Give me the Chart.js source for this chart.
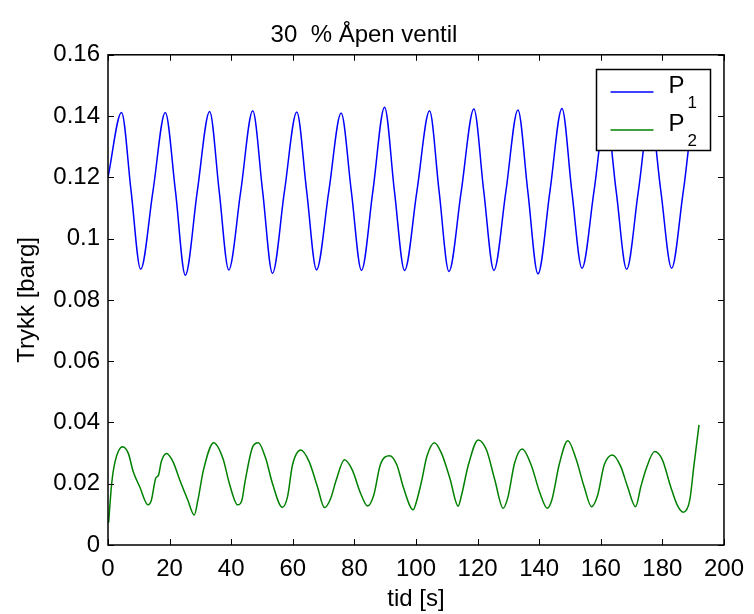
<!DOCTYPE html>
<html>
<head>
<meta charset="utf-8">
<title>30 % Åpen ventil</title>
<script src="https://cdn.jsdelivr.net/npm/chart.js@4/dist/chart.umd.min.js"></script>
<style>
  html, body { margin: 0; padding: 0; background: #fff; }
  #wrap { width: 754px; height: 614px; }
</style>
</head>
<body>
<div id="wrap"><canvas id="c" width="754" height="614"></canvas></div>
<script>
// Texts
const titleText = '30  % Åpen ventil';
const xTitle = 'tid [s]';
const yTitle = 'Trykk [barg]';
const seriesNames = ['P1', 'P2'];

// Axis ticks
const xTickValues = [0, 20, 40, 60, 80, 100, 120, 140, 160, 180, 200];
const xTickLabels = ['0', '20', '40', '60', '80', '100', '120', '140', '160', '180', '200'];
const yTickValues = [0, 0.02, 0.04, 0.06, 0.08, 0.1, 0.12, 0.14, 0.16];
const yTickLabels = ['0', '0.02', '0.04', '0.06', '0.08', '0.1', '0.12', '0.14', '0.16'];

// P1: peaks, troughs and mid-level crossings of the pressure swing
const p1Time = [
  0, 4.4, 7.5, 10.6, 14.6, 18.6, 21.9, 25.1, 29.0, 33.0, 36.1, 39.2, 43.1, 47.0,
  50.2, 53.4, 57.3, 61.3, 64.5, 67.7, 71.7, 75.7, 79.0, 82.3, 86.0, 89.8, 93.0,
  96.3, 100.3, 104.4, 107.5, 110.7, 114.7, 118.8, 122.0, 125.3, 129.2, 133.1,
  136.3, 139.6, 143.5, 147.4, 150.6, 153.9, 157.8, 161.6, 165.0, 168.4, 172.2,
  176.0, 179.5, 183.0, 186.8, 190.6, 191.9
];
const p1Value = [
  0.1200, 0.1412, 0.1155, 0.0900, 0.1155, 0.1412, 0.1155, 0.0881, 0.1155, 0.1415,
  0.1155, 0.0898, 0.1155, 0.1417, 0.1155, 0.0887, 0.1155, 0.1413, 0.1155, 0.0898,
  0.1155, 0.1410, 0.1155, 0.0896, 0.1155, 0.1429, 0.1155, 0.0896, 0.1155, 0.1417,
  0.1155, 0.0893, 0.1155, 0.1423, 0.1155, 0.0896, 0.1155, 0.1420, 0.1155, 0.0885,
  0.1155, 0.1425, 0.1155, 0.0903, 0.1155, 0.1410, 0.1155, 0.0900, 0.1155, 0.1410,
  0.1155, 0.0903, 0.1155, 0.1410, 0.1405
];

// P2: downstream pressure
const p2Time = [
  0.2, 1.2, 2.3, 4.7, 6.6, 8.2, 10.3, 13.0, 14.1, 15.5, 16.4, 17.3, 19.0, 21.1,
  23.3, 25.9, 28.0, 29.2, 31.0, 34.3, 37.3, 39.4, 42.1, 43.5, 44.5, 47.0, 48.8,
  51.2, 53.4, 56.6, 58.3, 59.9, 62.6, 65.3, 68.0, 70.3, 72.3, 74.1, 76.8, 79.3,
  82.0, 84.3, 86.3, 88.4, 91.4, 93.8, 96.0, 99.1, 100.3, 101.9, 103.5, 106.0,
  108.3, 111.0, 113.7, 114.8, 117.0, 120.2, 122.9, 125.6, 128.3, 129.9, 132.0,
  134.5, 137.4, 140.1, 142.6, 144.1, 146.6, 149.3, 151.9, 154.6, 157.0, 159.0,
  161.1, 163.8, 166.5, 168.7, 171.3, 173.0, 174.6, 177.5, 180.0, 182.7, 184.8,
  186.8, 188.9, 190.2, 191.9
];
const p2Value = [
  0.0073, 0.0201, 0.0272, 0.0321, 0.0299, 0.0239, 0.0190, 0.0131, 0.0147, 0.0218,
  0.0228, 0.0272, 0.0299, 0.0272, 0.0212, 0.0147, 0.0098, 0.0147, 0.0245, 0.0334,
  0.0283, 0.0201, 0.0131, 0.0147, 0.0207, 0.0321, 0.0334, 0.0283, 0.0201, 0.0123,
  0.0158, 0.0261, 0.0310, 0.0272, 0.0190, 0.0122, 0.0152, 0.0212, 0.0278, 0.0245,
  0.0169, 0.0127, 0.0163, 0.0261, 0.0291, 0.0261, 0.0185, 0.0115, 0.0147, 0.0212,
  0.0288, 0.0334, 0.0299, 0.0218, 0.0127, 0.0163, 0.0261, 0.0343, 0.0310, 0.0212,
  0.0120, 0.0158, 0.0267, 0.0313, 0.0261, 0.0174, 0.0120, 0.0147, 0.0267, 0.0340,
  0.0283, 0.0190, 0.0125, 0.0163, 0.0261, 0.0294, 0.0256, 0.0190, 0.0125, 0.0190,
  0.0245, 0.0305, 0.0278, 0.0190, 0.0131, 0.0107, 0.0147, 0.0256, 0.0392
];

const FONT = '"Liberation Sans", Arial, Helvetica, sans-serif';
const FONT_SIZE = 24;
const COLORS = ['#0000ff', '#008000'];

const toPoints = (ts, vs) => ts.map((t, i) => ({ x: t, y: vs[i] }));

// Box with inward tick marks on all four sides
const framePlugin = {
  id: 'frame',
  afterDatasetsDraw(chart) {
    const { ctx, chartArea: a, scales: { x, y } } = chart;
    const len = 6;
    ctx.save();
    ctx.strokeStyle = '#000';
    ctx.lineWidth = 1;
    ctx.beginPath();
    x.ticks.forEach(t => {
      const px = Math.round(x.getPixelForValue(t.value)) + 0.5;
      ctx.moveTo(px, a.bottom); ctx.lineTo(px, a.bottom - len);
      ctx.moveTo(px, a.top); ctx.lineTo(px, a.top + len);
    });
    y.ticks.forEach(t => {
      const py = Math.round(y.getPixelForValue(t.value)) + 0.5;
      ctx.moveTo(a.left, py); ctx.lineTo(a.left + len, py);
      ctx.moveTo(a.right, py); ctx.lineTo(a.right - len, py);
    });
    ctx.stroke();
    ctx.lineWidth = 1.5;
    ctx.strokeRect(a.left, a.top, a.right - a.left, a.bottom - a.top);
    ctx.restore();
  }
};

// Boxed legend in the upper right corner, labels with subscript index
const boxLegendPlugin = {
  id: 'boxLegend',
  afterDatasetsDraw(chart) {
    const { ctx, chartArea: a } = chart;
    const w = 114, h = 81;
    const left = Math.round(a.right - 14 - w) + 0.5;
    const top = Math.round(a.top + 14) + 0.5;
    ctx.save();
    ctx.fillStyle = '#fff';
    ctx.fillRect(left, top, w, h);
    ctx.strokeStyle = '#000';
    ctx.lineWidth = 1.5;
    ctx.strokeRect(left, top, w, h);
    chart.data.datasets.forEach((ds, i) => {
      const ly = top + 22.5 + i * 38;
      ctx.strokeStyle = ds.borderColor;
      ctx.lineWidth = 1.5;
      ctx.beginPath();
      ctx.moveTo(left + 14, ly);
      ctx.lineTo(left + 57, ly);
      ctx.stroke();
      const name = ds.label;
      ctx.fillStyle = '#000';
      ctx.textBaseline = 'alphabetic';
      ctx.textAlign = 'left';
      ctx.font = FONT_SIZE + 'px ' + FONT;
      const main = name.charAt(0);
      ctx.fillText(main, left + 72, ly + 1);
      const mw = ctx.measureText(main).width;
      ctx.font = '17px ' + FONT;
      ctx.fillText(name.slice(1), left + 72 + mw + 3, ly + 16);
    });
    ctx.restore();
  }
};

const tickFont = { family: FONT, size: FONT_SIZE };

new Chart(document.getElementById('c'), {
  type: 'line',
  data: {
    datasets: [
      {
        label: seriesNames[0],
        data: toPoints(p1Time, p1Value),
        borderColor: COLORS[0],
        borderWidth: 1.5,
        pointRadius: 0,
        cubicInterpolationMode: 'monotone',
        fill: false
      },
      {
        label: seriesNames[1],
        data: toPoints(p2Time, p2Value),
        borderColor: COLORS[1],
        borderWidth: 1.5,
        pointRadius: 0,
        cubicInterpolationMode: 'monotone',
        fill: false
      }
    ]
  },
  options: {
    responsive: false,
    animation: false,
    devicePixelRatio: 1,
    events: [],
    layout: { padding: { top: 0, right: 26, bottom: 0, left: 0 } },
    plugins: {
      legend: { display: false },
      tooltip: { enabled: false },
      title: {
        display: true,
        text: titleText,
        color: '#000',
        font: { family: FONT, size: FONT_SIZE, weight: 'normal' },
        padding: { top: 21, bottom: 5 }
      }
    },
    scales: {
      x: {
        type: 'linear',
        min: 0,
        max: 200,
        afterBuildTicks: s => { s.ticks = xTickValues.map(v => ({ value: v })); },
        afterFit: s => { s.height = 69; },
        ticks: {
          callback: v => xTickLabels[xTickValues.indexOf(v)],
          color: '#000',
          font: tickFont,
          padding: 10,
          maxRotation: 0,
          autoSkip: false
        },
        grid: { display: false, drawTicks: false },
        border: { display: false },
        title: {
          display: true,
          text: xTitle,
          color: '#000',
          font: tickFont,
          padding: { top: 2, bottom: 0 }
        }
      },
      y: {
        type: 'linear',
        min: 0,
        max: 0.16,
        afterBuildTicks: s => { s.ticks = yTickValues.map(v => ({ value: v })); },
        afterFit: s => { s.width = 108; },
        ticks: {
          callback: v => yTickLabels[yTickValues.findIndex(t => Math.abs(t - v) < 1e-9)],
          color: '#000',
          font: tickFont,
          padding: 8,
          autoSkip: false
        },
        grid: { display: false, drawTicks: false },
        border: { display: false },
        title: {
          display: true,
          text: yTitle,
          color: '#000',
          font: tickFont,
          padding: { top: 13, bottom: 0 }
        }
      }
    }
  },
  plugins: [framePlugin, boxLegendPlugin]
});
</script>
</body>
</html>
